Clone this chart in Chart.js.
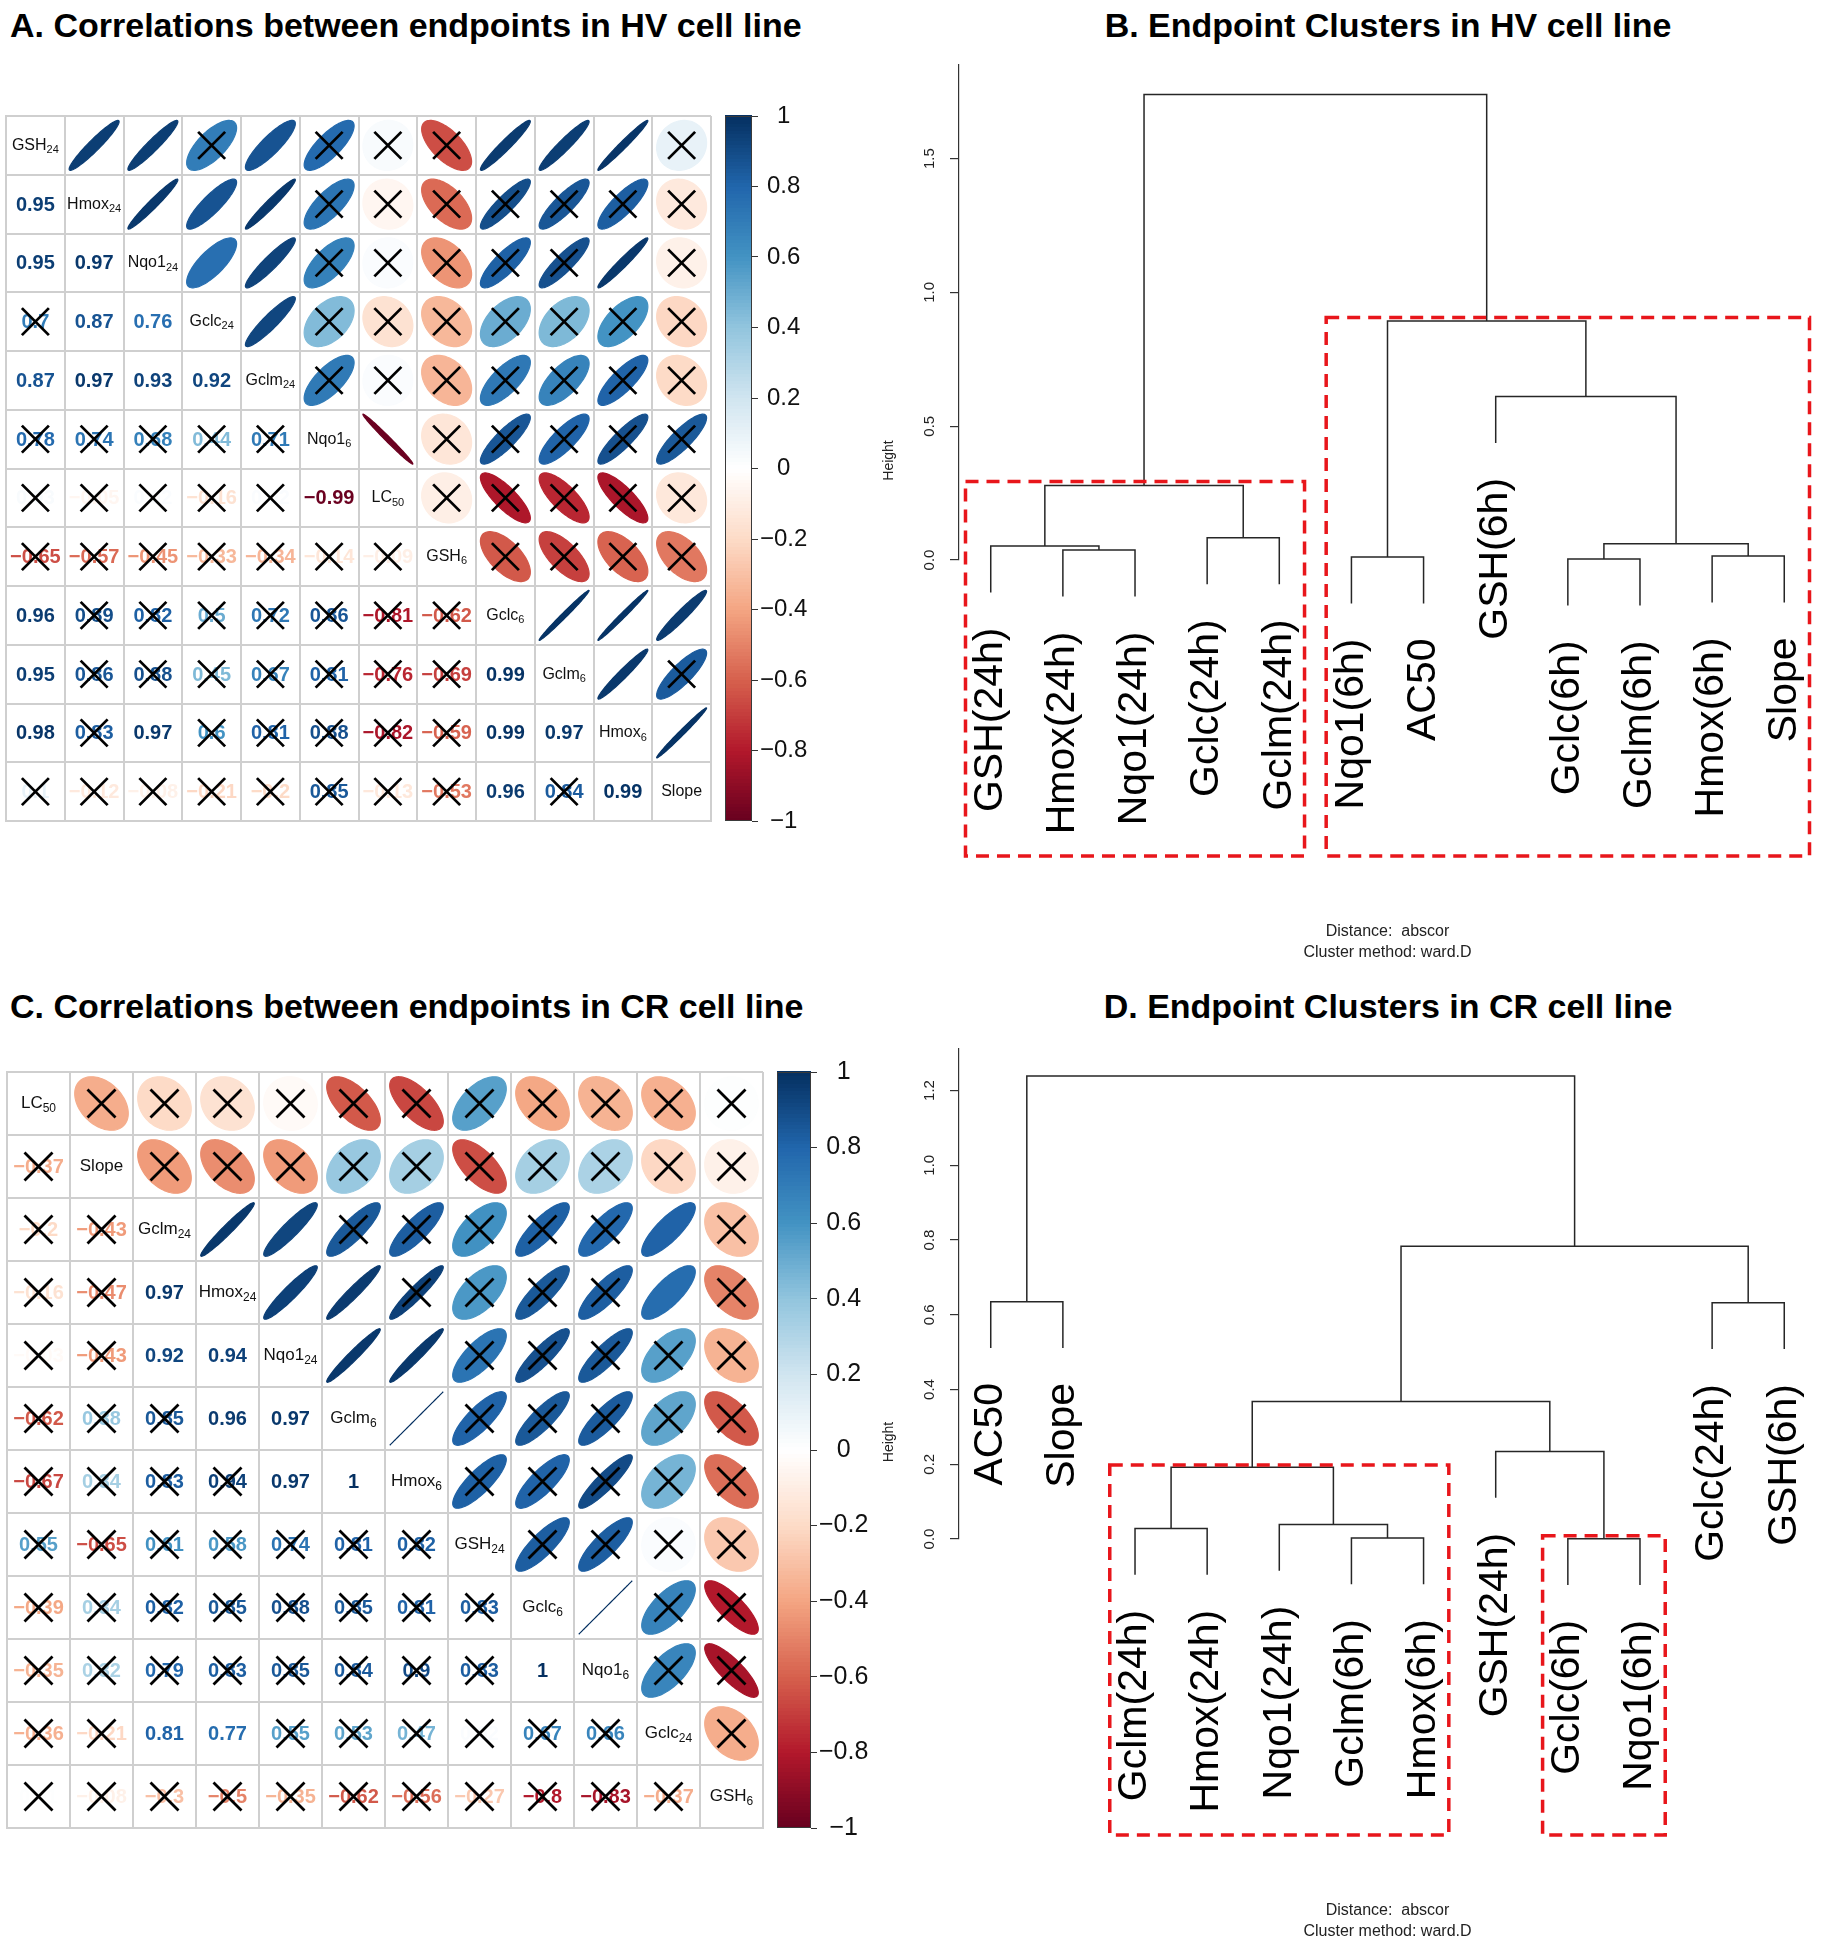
<!DOCTYPE html>
<html>
<head>
<meta charset="utf-8">
<script src="https://cdn.jsdelivr.net/npm/chart.js@4.4.1/dist/chart.umd.min.js"></script>
<style>
  body { margin: 0; background: #fff; width: 1834px; height: 1950px; position: relative; overflow: hidden;
         font-family: 'Liberation Sans', Arial, sans-serif; }
  .box { position: absolute; }
  .ttl { position: absolute; font-weight: bold; font-size: 34px; line-height: 40px; white-space: nowrap; color: #000; }
  .ctr { transform: translateX(-50%); }
</style>
</head>
<body>
<div class="ttl" style="left:10px;top:5px">A. Correlations between endpoints in HV cell line</div>
<div class="ttl ctr" style="left:1388px;top:5px">B. Endpoint Clusters in HV cell line</div>
<div class="ttl" style="left:10px;top:986px">C. Correlations between endpoints in CR cell line</div>
<div class="ttl ctr" style="left:1388px;top:986px">D. Endpoint Clusters in CR cell line</div>

<div class="box" style="left:4px;top:114px"><canvas id="corrA" width="709" height="709"></canvas></div>
<div class="box" style="left:725px;top:96px"><canvas id="barA" width="97" height="745"></canvas></div>
<div class="box" style="left:880px;top:40px"><canvas id="dendB" width="954" height="940"></canvas></div>
<div class="box" style="left:5px;top:1070px"><canvas id="corrC" width="760" height="760"></canvas></div>
<div class="box" style="left:777px;top:1052px"><canvas id="barC" width="104" height="796"></canvas></div>
<div class="box" style="left:880px;top:1030px"><canvas id="dendD" width="954" height="920"></canvas></div>

<script>
// ---- panel A : HV cell line, correlation matrix (lower triangle rows) ----
const varsA = ['GSH_24', 'Hmox_24', 'Nqo1_24', 'Gclc_24', 'Gclm_24', 'Nqo1_6', 'LC_50', 'GSH_6', 'Gclc_6', 'Gclm_6', 'Hmox_6', 'Slope'];
const corrA = [
  [],
  [0.95],
  [0.95, 0.97],
  [0.7, 0.87, 0.76],
  [0.87, 0.97, 0.93, 0.92],
  [0.78, 0.74, 0.68, 0.44, 0.71],
  [0.03, -0.05, 0.02, -0.16, 0.02, -0.99],
  [-0.65, -0.57, -0.45, -0.33, -0.34, -0.14, -0.09],
  [0.96, 0.89, 0.82, 0.5, 0.72, 0.86, -0.81, -0.62],
  [0.95, 0.86, 0.88, 0.45, 0.67, 0.81, -0.76, -0.69, 0.99],
  [0.98, 0.83, 0.97, 0.6, 0.81, 0.88, -0.82, -0.59, 0.99, 0.97],
  [0.1, -0.12, -0.08, -0.21, -0.2, 0.85, -0.13, -0.53, 0.96, 0.84, 0.99]
];
// 1 = not significant (crossed out)
const crossA = [
  [],
  [0],
  [0, 0],
  [1, 0, 0],
  [0, 0, 0, 0],
  [1, 1, 1, 1, 1],
  [1, 1, 1, 1, 1, 0],
  [1, 1, 1, 1, 1, 1, 1],
  [0, 1, 1, 1, 1, 1, 1, 1],
  [0, 1, 1, 1, 1, 1, 1, 1, 0],
  [0, 1, 0, 1, 1, 1, 1, 1, 0, 0],
  [1, 1, 1, 1, 1, 1, 1, 1, 0, 1, 0]
];

// ---- panel C : CR cell line ----
const varsC = ['LC_50', 'Slope', 'Gclm_24', 'Hmox_24', 'Nqo1_24', 'Gclm_6', 'Hmox_6', 'GSH_24', 'Gclc_6', 'Nqo1_6', 'Gclc_24', 'GSH_6'];
const corrC = [
  [],
  [-0.37],
  [-0.2, -0.43],
  [-0.16, -0.47, 0.97],
  [-0.03, -0.43, 0.92, 0.94],
  [-0.62, 0.38, 0.85, 0.96, 0.97],
  [-0.67, 0.34, 0.83, 0.94, 0.97, 1],
  [0.55, -0.65, 0.61, 0.58, 0.74, 0.81, 0.82],
  [-0.39, 0.34, 0.82, 0.85, 0.88, 0.85, 0.81, 0.83],
  [-0.35, 0.32, 0.79, 0.83, 0.85, 0.84, 0.9, 0.83, 1],
  [-0.36, -0.21, 0.81, 0.77, 0.55, 0.53, 0.47, 0.02, 0.67, 0.66],
  [0.01, -0.08, -0.3, -0.5, -0.35, -0.62, -0.56, -0.27, -0.8, -0.83, -0.37]
];
const crossC = [
  [],
  [1],
  [1, 1],
  [1, 1, 0],
  [1, 1, 0, 0],
  [1, 1, 1, 0, 0],
  [1, 1, 1, 1, 0, 0],
  [1, 1, 1, 1, 1, 1, 1],
  [1, 1, 1, 1, 1, 1, 1, 1],
  [1, 1, 1, 1, 1, 1, 1, 1, 0],
  [1, 1, 0, 0, 1, 1, 1, 1, 1, 1],
  [1, 1, 1, 1, 1, 1, 1, 1, 1, 1, 1]
];

// colour legend ticks
const legendTicks = [-1, -0.8, -0.6, -0.4, -0.2, 0, 0.2, 0.4, 0.6, 0.8, 1];

// ---- panel B : dendrogram HV (leaf order left to right) ----
const leavesB = ['GSH(24h)', 'Hmox(24h)', 'Nqo1(24h)', 'Gclc(24h)', 'Gclm(24h)', 'Nqo1(6h)', 'AC50', 'GSH(6h)', 'Gclc(6h)', 'Gclm(6h)', 'Hmox(6h)', 'Slope'];
// merges: negative = leaf position, positive = earlier merge row; last = height
const mergesB = [
  [-2, -3, 0.037],
  [-1, 1, 0.052],
  [-4, -5, 0.083],
  [2, 3, 0.278],
  [-9, -10, 0.004],
  [-6, -7, 0.011],
  [-11, -12, 0.015],
  [5, 7, 0.061],
  [-8, 8, 0.611],
  [6, 9, 0.893],
  [4, 10, 1.74]
];
const boxesB = [{ from: 1, to: 5, top: 0.293 }, { from: 6, to: 12, top: 0.906 }];
const ticksB = [0, 0.5, 1, 1.5];

// ---- panel D : dendrogram CR ----
const leavesD = ['AC50', 'Slope', 'Gclm(24h)', 'Hmox(24h)', 'Nqo1(24h)', 'Gclm(6h)', 'Hmox(6h)', 'GSH(24h)', 'Gclc(6h)', 'Nqo1(6h)', 'Gclc(24h)', 'GSH(6h)'];
const mergesD = [
  [-9, -10, 0.001],
  [-6, -7, 0.003],
  [-3, -4, 0.028],
  [-5, 2, 0.039],
  [3, 4, 0.192],
  [-8, 1, 0.234],
  [5, 6, 0.368],
  [-11, -12, 0.632],
  [-1, -2, 0.635],
  [7, 8, 0.783],
  [9, 10, 1.239]
];
const boxesD = [{ from: 3, to: 7, top: 0.198 }, { from: 9, to: 10, top: 0.009 }];
const ticksD = [0, 0.2, 0.4, 0.6, 0.8, 1, 1.2];

const FONT = "'Liberation Sans', Arial, sans-serif";
const RDBU = ['#67001F', '#B2182B', '#D6604D', '#F4A582', '#FDDBC7', '#FFFFFF', '#D1E5F0', '#92C5DE', '#4393C3', '#2166AC', '#053061'];

function hexRgb(h) { return [1, 3, 5].map(i => parseInt(h.slice(i, i + 2), 16)); }
function corrColor(v) {
  const t = (Math.max(-1, Math.min(1, v)) + 1) / 2 * (RDBU.length - 1);
  const i = Math.min(Math.floor(t), RDBU.length - 2);
  const f = t - i;
  const a = hexRgb(RDBU[i]), b = hexRgb(RDBU[i + 1]);
  return 'rgb(' + a.map((c, k) => Math.round(c + (b[k] - c) * f)).join(',') + ')';
}
function fmtNum(v) {
  const r = Math.round(v * 100) / 100;
  return String(r).replace('-', '\u2212');
}

// ---------- correlation matrix ----------
const corrPlugin = {
  id: 'corrMarks',
  afterDatasetsDraw(chart, args, opts) {
    const ctx = chart.ctx;
    const xs = chart.scales.x, ys = chart.scales.y;
    const cw = Math.abs(xs.getPixelForValue(2) - xs.getPixelForValue(1));
    const ch = Math.abs(ys.getPixelForValue(2) - ys.getPixelForValue(1));
    const pts = chart.data.datasets[0].data;
    const meta = chart.getDatasetMeta(0);
    ctx.save();
    meta.data.forEach((el, k) => {
      const p = pts[k];
      const cx = el.x, cy = el.y;
      if (p.kind === 'diag') {
        const [main, sub] = p.label.split('_');
        ctx.font = opts.labSize + 'px ' + FONT;
        const w1 = ctx.measureText(main).width;
        ctx.font = opts.subSize + 'px ' + FONT;
        const w2 = sub ? ctx.measureText(sub).width : 0;
        let x0 = cx - (w1 + w2) / 2;
        ctx.fillStyle = '#111';
        ctx.textAlign = 'left';
        ctx.textBaseline = 'middle';
        ctx.font = opts.labSize + 'px ' + FONT;
        ctx.fillText(main, x0, cy);
        if (sub) {
          ctx.font = opts.subSize + 'px ' + FONT;
          ctx.fillText(sub, x0 + w1, cy + opts.labSize * 0.3);
        }
        return;
      }
      const col = corrColor(p.v);
      if (p.kind === 'upper') {
        const a = Math.acos(Math.max(-1, Math.min(1, p.v))) / 2;
        ctx.beginPath();
        for (let i = 0; i < 99; i++) {
          const t = 2 * Math.PI * i / 98;
          const dx = Math.cos(t + a) / 2 * 0.85 * cw;
          const dy = Math.cos(t - a) / 2 * 0.85 * ch;
          if (i === 0) ctx.moveTo(cx + dx, cy - dy); else ctx.lineTo(cx + dx, cy - dy);
        }
        ctx.closePath();
        ctx.fillStyle = col;
        ctx.fill();
        ctx.strokeStyle = col;
        ctx.lineWidth = 1.2;
        ctx.stroke();
      } else {
        ctx.font = 'bold ' + opts.numSize + 'px ' + FONT;
        ctx.fillStyle = col;
        ctx.textAlign = 'center';
        ctx.textBaseline = 'middle';
        ctx.fillText(fmtNum(p.v), cx, cy + 1);
      }
      if (p.ns) {
        const h = opts.crossHalf;
        ctx.strokeStyle = '#000';
        ctx.lineWidth = 2.8;
        ctx.lineCap = 'butt';
        ctx.beginPath();
        ctx.moveTo(cx - h, cy - h); ctx.lineTo(cx + h, cy + h);
        ctx.moveTo(cx + h, cy - h); ctx.lineTo(cx - h, cy + h);
        ctx.stroke();
      }
    });
    ctx.restore();
  }
};

function corrChart(id, vars, lower, cross, o) {
  const n = vars.length;
  const cells = [];
  for (let i = 0; i < n; i++) {
    for (let j = 0; j < n; j++) {
      if (i === j) cells.push({ x: j + 1, y: i + 1, kind: 'diag', label: vars[i], v: 1, ns: 0 });
      else if (i > j) cells.push({ x: j + 1, y: i + 1, kind: 'lower', v: lower[i][j], ns: cross[i][j] });
      else cells.push({ x: j + 1, y: i + 1, kind: 'upper', v: lower[j][i], ns: cross[j][i] });
    }
  }
  const edges = Array.from({ length: n + 1 }, (_, k) => ({ value: k + 0.5 }));
  const axis = (rev) => ({
    type: 'linear', min: 0.5, max: n + 0.5, reverse: rev,
    afterBuildTicks: s => { s.ticks = edges.map(e => ({ value: e.value })); },
    ticks: { display: false },
    grid: { color: '#cfcfcf', lineWidth: 2, drawTicks: false },
    border: { color: '#cfcfcf', width: 2 }
  });
  return new Chart(document.getElementById(id), {
    type: 'scatter',
    data: { datasets: [{ data: cells, pointRadius: 0, pointHoverRadius: 0 }] },
    options: {
      responsive: false, animation: false, events: [],
      layout: { padding: 2 },
      plugins: { legend: { display: false }, tooltip: { enabled: false }, corrMarks: o },
      scales: { x: axis(false), y: axis(true) }
    },
    plugins: [corrPlugin]
  });
}

// ---------- colour legend ----------
const rampPlugin = {
  id: 'ramp',
  beforeDatasetsDraw(chart) {
    const ctx = chart.ctx, ys = chart.scales.y, a = chart.chartArea;
    ctx.save();
    for (let v = -1; v < 1 - 1e-9; v += 0.01) {
      const y0 = ys.getPixelForValue(v), y1 = ys.getPixelForValue(v + 0.01);
      ctx.fillStyle = corrColor(v + 0.005);
      ctx.fillRect(a.left, Math.floor(y1), a.right - a.left, Math.ceil(y0) - Math.floor(y1));
    }
    ctx.strokeStyle = '#3a3a3a';
    ctx.lineWidth = 1;
    ctx.strokeRect(a.left + 0.5, ys.getPixelForValue(1) + 0.5, a.right - a.left - 1, ys.getPixelForValue(-1) - ys.getPixelForValue(1) - 1);
    ctx.restore();
  }
};

function legendChart(id, size) {
  return new Chart(document.getElementById(id), {
    type: 'scatter',
    data: { datasets: [] },
    options: {
      responsive: false, animation: false, events: [],
      layout: { padding: { top: 20, bottom: 20, left: 0, right: 0 } },
      plugins: { legend: { display: false }, tooltip: { enabled: false } },
      scales: {
        x: { display: false, min: 0, max: 1 },
        y: {
          position: 'right', min: -1, max: 1,
          afterBuildTicks: s => { s.ticks = legendTicks.map(v => ({ value: v })); },
          afterFit: s => { s.width = 70; },
          ticks: {
            crossAlign: 'center', padding: 2, color: '#111',
            font: { size: size, family: FONT },
            callback: v => (Math.abs(v) < 1e-9 ? '0' : String(Math.round(v * 10) / 10).replace('-', '\u2212'))
          },
          grid: { drawOnChartArea: false, tickLength: 6, color: '#333', lineWidth: 1 },
          border: { display: false }
        }
      }
    },
    plugins: [rampPlugin]
  });
}

// ---------- dendrogram ----------
function dendroData(merges) {
  const hs = merges.map(m => m[2]);
  const hang = 0.1 * (Math.max(...hs) - Math.min(...hs));
  const mid = [];
  const leafEnd = {};
  const segs = merges.map(([a, b, h]) => {
    const ends = [a, b].map(c => {
      if (c < 0) { leafEnd[-c] = h - hang; return { x: -c, y: h - hang }; }
      return { x: mid[c - 1], y: merges[c - 1][2] };
    });
    mid.push((ends[0].x + ends[1].x) / 2);
    return [ends[0], { x: ends[0].x, y: h }, { x: ends[1].x, y: h }, ends[1]];
  });
  return { segs, leafEnd };
}

const dendroPlugin = {
  id: 'dendro',
  afterDraw(chart, args, o) {
    const ctx = chart.ctx, xs = chart.scales.x, ys = chart.scales.y, a = chart.chartArea;
    const zero = ys.getPixelForValue(0);
    const floor = zero + 296;
    ctx.save();
    // axis tick labels, rotated like R
    ctx.fillStyle = '#222';
    ctx.textAlign = 'center';
    ctx.textBaseline = 'middle';
    ctx.font = '15px ' + FONT;
    ys.ticks.forEach(t => {
      ctx.save();
      ctx.translate(a.left - 29, ys.getPixelForValue(t.value));
      ctx.rotate(-Math.PI / 2);
      ctx.fillText(t.value.toFixed(1), 0, 0);
      ctx.restore();
    });
    ctx.save();
    ctx.font = '14px ' + FONT;
    ctx.translate(a.left - 70, (a.top + floor) / 2);
    ctx.rotate(-Math.PI / 2);
    ctx.fillText('Height', 0, 0);
    ctx.restore();
    // leaf labels
    ctx.font = '41px ' + FONT;
    ctx.fillStyle = '#000';
    o.leaves.forEach((lab, i) => {
      const px = xs.getPixelForValue(i + 1);
      const py = ys.getPixelForValue(o.leafEnd[i + 1]) + 35;
      ctx.save();
      ctx.translate(px, py);
      ctx.rotate(-Math.PI / 2);
      ctx.textAlign = 'right';
      ctx.textBaseline = 'middle';
      ctx.fillText(lab, 0, 0);
      ctx.restore();
    });
    // cluster boxes
    ctx.strokeStyle = '#e8161b';
    ctx.lineWidth = 3.5;
    ctx.setLineDash([13, 8]);
    o.boxes.forEach(b => {
      const x0 = xs.getPixelForValue(b.from - 0.35), x1 = xs.getPixelForValue(b.to + 0.35);
      const y0 = ys.getPixelForValue(b.top);
      ctx.strokeRect(x0, y0, x1 - x0, floor - y0);
    });
    ctx.setLineDash([]);
    // method note
    ctx.fillStyle = '#222';
    ctx.font = '16px ' + FONT;
    ctx.textAlign = 'center';
    ctx.textBaseline = 'middle';
    const cx = (a.left + a.right) / 2;
    ctx.fillText('Distance:  abscor', cx, zero + 372);
    ctx.fillText('Cluster method: ward.D', cx, zero + 393);
    ctx.restore();
  }
};

function dendroChart(id, leaves, merges, boxes, ticks, yMax, pad) {
  const d = dendroData(merges);
  return new Chart(document.getElementById(id), {
    type: 'scatter',
    data: {
      datasets: d.segs.map(s => ({
        data: s, showLine: true, borderColor: '#262626', borderWidth: 1.5,
        pointRadius: 0, pointHoverRadius: 0, clip: false
      }))
    },
    options: {
      responsive: false, animation: false, events: [],
      layout: { padding: pad },
      plugins: {
        legend: { display: false }, tooltip: { enabled: false },
        dendro: { leaves, leafEnd: d.leafEnd, boxes }
      },
      scales: {
        x: { type: 'linear', display: false, min: 0.56, max: leaves.length + 0.44 },
        y: {
          type: 'linear', min: 0, max: yMax,
          afterBuildTicks: s => { s.ticks = ticks.map(v => ({ value: v })); },
          ticks: { display: false },
          grid: { drawOnChartArea: false, drawTicks: true, tickLength: 9, color: '#333', lineWidth: 1.2 },
          border: { display: true, color: '#333', width: 1.2 }
        }
      }
    },
    plugins: [dendroPlugin]
  });
}

corrChart('corrA', varsA, corrA, crossA, { numSize: 20, labSize: 16, subSize: 11, crossHalf: 13.5 });
corrChart('corrC', varsC, corrC, crossC, { numSize: 20, labSize: 17, subSize: 12, crossHalf: 14 });
legendChart('barA', 24);
legendChart('barC', 25);
dendroChart('dendB', leavesB, mergesB, boxesB, ticksB, 1.85, { left: 70, right: 18, top: 25, bottom: 420 });
dendroChart('dendD', leavesD, mergesD, boxesD, ticksD, 1.311, { left: 70, right: 18, top: 19, bottom: 411 });
</script>
</body>
</html>
